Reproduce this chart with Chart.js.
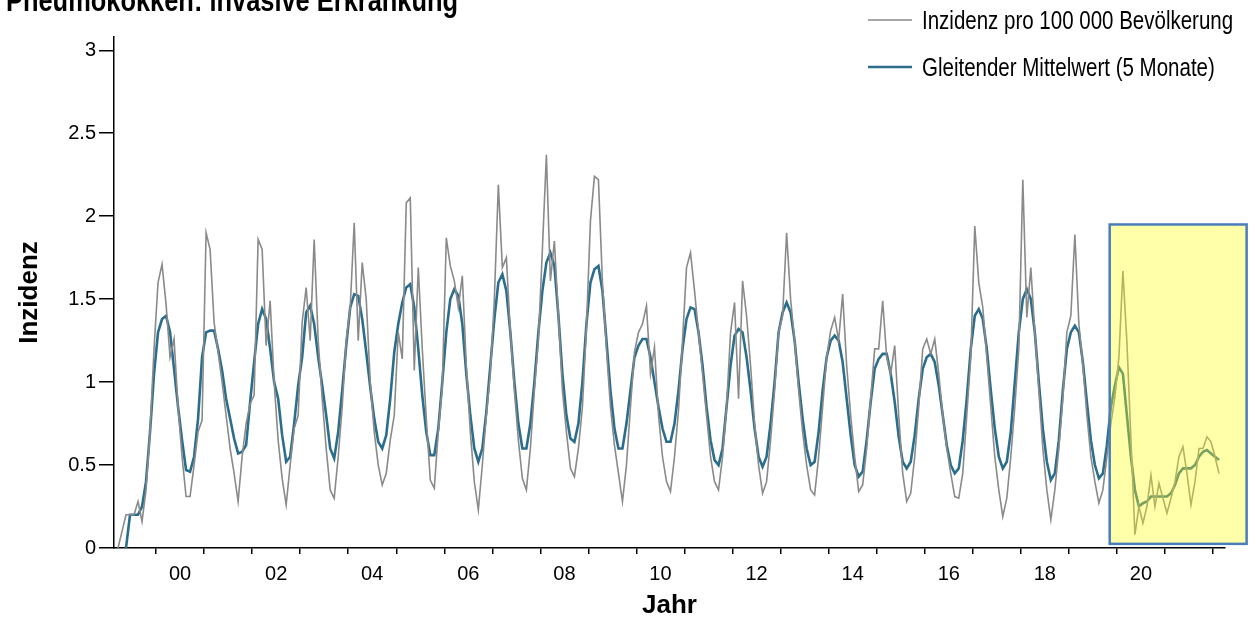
<!DOCTYPE html>
<html>
<head>
<meta charset="utf-8">
<script src="https://cdn.jsdelivr.net/npm/chart.js@4.4.1/dist/chart.umd.min.js"></script>
<style>
  html, body { margin: 0; padding: 0; background: #fff; }
  #wrap { width: 1251px; height: 628px; }
</style>
</head>
<body>
<div id="wrap"><canvas id="chart" width="1251" height="628"></canvas></div>
<script>
const titleText = 'Pneumokokken: invasive Erkrankung';
const seriesNames = ['Inzidenz pro 100 000 Bevölkerung', 'Gleitender Mittelwert (5 Monate)'];
const xTitle = 'Jahr';
const yTitle = 'Inzidenz';

// monthly values, first month = March 1999
const firstYear = 1999;
const firstMonth = 3;

const incidence = [
  0, 0.1, 0.2, 0.2, 0.2, 0.28, 0.16, 0.35, 0.7, 1.2,
  1.6, 1.71, 1.47, 1.15, 1.26, 0.85, 0.55, 0.31, 0.31, 0.5, 0.7, 0.77,
  1.9, 1.8, 1.36, 1.18, 1.0, 0.8, 0.6, 0.45, 0.28, 0.55, 0.75, 0.87,
  0.92, 1.86, 1.8, 1.22, 1.49, 1.0, 0.65, 0.42, 0.26, 0.5, 0.72, 0.8,
  1.36, 1.57, 1.25, 1.86, 1.25, 0.9, 0.6, 0.35, 0.3, 0.55, 0.85, 1.25,
  1.45, 1.96, 1.25, 1.72, 1.5, 1.0, 0.7, 0.5, 0.38, 0.45, 0.65, 0.8,
  1.3, 1.14, 2.08, 2.11, 1.07, 1.69, 1.2, 0.78, 0.41, 0.36, 0.7, 0.97,
  1.87, 1.7, 1.61, 1.45, 1.64, 1.1, 0.7, 0.4, 0.23, 0.5, 0.8, 1.05,
  1.5, 2.19, 1.69, 1.75, 1.3, 0.95, 0.65, 0.42, 0.35, 0.6, 0.95, 1.25,
  1.8, 2.37, 1.61, 1.85, 1.4, 0.95, 0.7, 0.48, 0.43, 0.6, 0.85, 1.33,
  1.97, 2.24, 2.22, 1.6, 1.2, 0.85, 0.62, 0.45, 0.28, 0.5, 0.85, 1.18,
  1.3, 1.35, 1.46, 1.05, 1.21, 0.8, 0.55, 0.4, 0.34, 0.55, 0.83, 1.25,
  1.69, 1.78, 1.55, 1.3, 1.05, 0.8, 0.55, 0.4, 0.35, 0.55, 0.85, 1.3,
  1.48, 0.9, 1.61, 1.4, 1.1, 0.75, 0.5, 0.33, 0.4, 0.65, 0.95, 1.3,
  1.4, 1.9, 1.5, 1.25, 0.95, 0.7, 0.5, 0.35, 0.32, 0.55, 0.85, 1.15,
  1.31, 1.39, 1.25, 1.53, 1.1, 0.8, 0.55, 0.34, 0.38, 0.6, 0.9, 1.2,
  1.2, 1.49, 1.15, 1.05, 1.22, 0.8, 0.45, 0.28, 0.33, 0.55, 0.85, 1.2,
  1.26, 1.17, 1.26, 1.05, 0.8, 0.6, 0.45, 0.31, 0.3, 0.45, 0.8, 1.15,
  1.94, 1.6, 1.45, 1.15, 0.85, 0.55, 0.35, 0.19, 0.3, 0.55, 0.85, 1.2,
  2.22, 1.39, 1.69, 1.3, 0.95, 0.6, 0.35, 0.17, 0.35, 0.6, 0.9, 1.3,
  1.4, 1.89, 1.35, 1.1, 0.8, 0.55, 0.4, 0.27, 0.35, 0.55, 0.75, 0.91,
  1.15, 1.67, 1.24, 0.66, 0.08, 0.25, 0.15, 0.25, 0.44, 0.25, 0.39, 0.3,
  0.21, 0.3, 0.4, 0.55, 0.61, 0.45, 0.26, 0.4, 0.6, 0.6, 0.67, 0.64,
  0.55, 0.45
];

const movingAvg = [
  null, null, 0, 0.2, 0.2, 0.2, 0.25, 0.4, 0.7, 1.05,
  1.3, 1.38, 1.4, 1.3, 1.08, 0.85, 0.65, 0.47, 0.46, 0.55, 0.78, 1.15,
  1.3, 1.31, 1.31, 1.2, 1.07, 0.9, 0.78, 0.66, 0.57, 0.58, 0.62, 0.88,
  1.12, 1.35, 1.44, 1.38, 1.2, 1.0, 0.9, 0.68, 0.52, 0.55, 0.75, 0.98,
  1.15, 1.42, 1.46, 1.35, 1.15, 0.98, 0.8, 0.6, 0.54, 0.7, 0.95, 1.22,
  1.45, 1.53, 1.52, 1.38, 1.18, 0.97, 0.78, 0.64, 0.6, 0.68, 0.9, 1.18,
  1.35, 1.48, 1.57, 1.59, 1.45, 1.2, 0.92, 0.7, 0.56, 0.56, 0.72, 1.0,
  1.3, 1.5, 1.56, 1.52, 1.35, 1.05, 0.8, 0.6, 0.52, 0.6, 0.82, 1.1,
  1.38, 1.6, 1.65, 1.55, 1.3, 1.0, 0.75, 0.6, 0.6, 0.75, 1.0, 1.3,
  1.55, 1.72, 1.78, 1.7, 1.4, 1.05, 0.8, 0.66, 0.64, 0.75, 1.0, 1.35,
  1.6, 1.68, 1.7, 1.55, 1.25, 0.95, 0.72, 0.6, 0.6, 0.75, 0.95, 1.15,
  1.22, 1.26, 1.26, 1.15, 1.0, 0.85, 0.72, 0.64, 0.64, 0.75, 0.95, 1.2,
  1.38, 1.45, 1.44, 1.3, 1.1, 0.85, 0.65, 0.53, 0.5, 0.6, 0.85, 1.1,
  1.28, 1.32, 1.3, 1.15, 0.95, 0.72, 0.55, 0.49, 0.55, 0.75, 1.0, 1.3,
  1.42, 1.48, 1.42, 1.25, 1.0, 0.78, 0.6, 0.5, 0.52, 0.7, 0.95, 1.15,
  1.25, 1.28, 1.25, 1.12, 0.9, 0.68, 0.5, 0.43, 0.46, 0.65, 0.88, 1.08,
  1.14, 1.17, 1.17, 1.05, 0.88, 0.67, 0.52, 0.48, 0.52, 0.68, 0.9, 1.08,
  1.15, 1.17, 1.12, 0.98, 0.8, 0.62, 0.5, 0.45, 0.48, 0.65, 0.9, 1.2,
  1.4, 1.44, 1.38, 1.2, 0.95, 0.72, 0.55, 0.48, 0.52, 0.7, 1.0, 1.3,
  1.5, 1.56, 1.5, 1.3, 1.0, 0.72, 0.52, 0.41, 0.45, 0.65, 0.95, 1.2,
  1.3, 1.34, 1.3, 1.12, 0.88, 0.65, 0.5, 0.42, 0.45, 0.62, 0.85, 0.98,
  1.09, 1.05, 0.8, 0.55, 0.35, 0.25, 0.27, 0.28, 0.31, 0.31, 0.31, 0.31,
  0.31, 0.33, 0.38, 0.45, 0.48, 0.48, 0.48, 0.5, 0.55, 0.58, 0.59, 0.57,
  0.55, 0.53
];

const yearLabels = ['00', '02', '04', '06', '08', '10', '12', '14', '16', '18', '20'];
const yTickValues = [0, 0.5, 1, 1.5, 2, 2.5, 3];

// marked period (yellow box), in axis units
const boxFrom = [2019.85, 0.025];
const boxTo = [2022.7, 1.95];

const FONT = "'Liberation Sans', Arial, sans-serif";
const X_MIN = 1999.125;
const X_MAX = 2022.25;

function monthX(i) {
  return firstYear + (firstMonth - 1 + i + 0.5) / 12;
}

const grayPts = incidence.map((v, i) => ({ x: monthX(i), y: v }));
const avgPts = movingAvg.map((v, i) => ({ x: monthX(i), y: v }));

// narrow-looking text: draw squeezed horizontally
function narrowText(ctx, text, x, y, font) {
  ctx.save();
  ctx.translate(x, y);
  ctx.scale(0.82, 1);
  ctx.font = font;
  ctx.fillText(text, 0, 0);
  ctx.restore();
}

const decorations = {
  id: 'decorations',
  afterDatasetsDraw(chart) {
    const { ctx, scales: { x, y } } = chart;
    const left = x.getPixelForValue(boxFrom[0]);
    const right = x.getPixelForValue(boxTo[0]);
    const top = y.getPixelForValue(boxTo[1]);
    const bottom = y.getPixelForValue(boxFrom[1]);
    ctx.save();
    ctx.fillStyle = 'rgba(255,255,20,0.36)';
    ctx.fillRect(left, top, right - left, bottom - top);
    ctx.strokeStyle = '#4a7ebb';
    ctx.lineWidth = 2.5;
    ctx.strokeRect(left, top, right - left, bottom - top);
    ctx.restore();
  },
  afterDraw(chart) {
    const ctx = chart.ctx;
    ctx.save();
    ctx.fillStyle = '#000';
    ctx.textBaseline = 'alphabetic';
    narrowText(ctx, titleText, 6, 11, 'bold 31px ' + FONT);

    // legend, stacked at top right
    const baselines = [29, 76];
    const lineYs = [20, 67];
    chart.data.datasets.forEach((ds, i) => {
      ctx.strokeStyle = ds.borderColor;
      ctx.lineWidth = ds.borderWidth;
      ctx.beginPath();
      ctx.moveTo(868, lineYs[i]);
      ctx.lineTo(912, lineYs[i]);
      ctx.stroke();
      ctx.fillStyle = '#000';
      narrowText(ctx, ds.label, 922, baselines[i], '25px ' + FONT);
    });
    ctx.restore();
  }
};

new Chart(document.getElementById('chart'), {
  type: 'line',
  data: {
    datasets: [
      {
        label: seriesNames[0],
        data: grayPts,
        borderColor: '#8a8a8a',
        borderWidth: 1.6,
        pointRadius: 0,
        tension: 0
      },
      {
        label: seriesNames[1],
        data: avgPts,
        borderColor: '#2a6e8c',
        borderWidth: 2.6,
        pointRadius: 0,
        tension: 0
      }
    ]
  },
  options: {
    responsive: false,
    devicePixelRatio: 1,
    animation: false,
    layout: { padding: { top: 37, right: 26, left: 0, bottom: 0 } },
    plugins: {
      legend: { display: false },
      title: { display: false },
      tooltip: { enabled: false }
    },
    scales: {
      x: {
        type: 'linear',
        min: X_MIN,
        max: X_MAX,
        border: { color: '#000', width: 1.5 },
        grid: {
          drawOnChartArea: false,
          drawTicks: true,
          tickLength: 6,
          lineWidth: 1.5,
          color: (c) => (c.tick && Number.isInteger(c.tick.value)) ? '#000' : 'rgba(0,0,0,0)'
        },
        afterBuildTicks(scale) {
          const ticks = [];
          for (let yr = 1999; yr <= 2022; yr++) {
            if (yr >= X_MIN && yr <= X_MAX) ticks.push({ value: yr });
            if (yr + 0.5 >= X_MIN && yr + 0.5 <= X_MAX) ticks.push({ value: yr + 0.5 });
          }
          scale.ticks = ticks;
        },
        ticks: {
          autoSkip: false,
          maxRotation: 0,
          padding: 8,
          color: '#000',
          font: { family: FONT, size: 20 },
          callback(value) {
            const yr = Math.floor(value);
            if (value - yr !== 0.5 || yr % 2 !== 0) return '';
            return yearLabels[(yr - 2000) / 2] || '';
          }
        },
        title: {
          display: true,
          text: xTitle,
          color: '#000',
          font: { family: FONT, size: 26, weight: 'bold', lineHeight: 1.2 },
          padding: { top: 0, bottom: 7 }
        },
        afterFit(scale) { scale.height = 80; }
      },
      y: {
        min: 0,
        max: 3.08,
        border: { color: '#000', width: 1.5 },
        grid: {
          drawOnChartArea: false,
          drawTicks: true,
          tickLength: 15,
          lineWidth: 1.5,
          color: '#000'
        },
        afterBuildTicks(scale) {
          scale.ticks = yTickValues.map(v => ({ value: v }));
        },
        ticks: {
          padding: 3,
          color: '#000',
          font: { family: FONT, size: 20 },
          callback: (v) => String(v)
        },
        title: {
          display: true,
          text: yTitle,
          color: '#000',
          font: { family: FONT, size: 26, weight: 'bold', lineHeight: 1.2 },
          padding: { top: 14, bottom: 0 }
        },
        afterFit(scale) { scale.width = 114; }
      }
    }
  },
  plugins: [decorations]
});
</script>
</body>
</html>
